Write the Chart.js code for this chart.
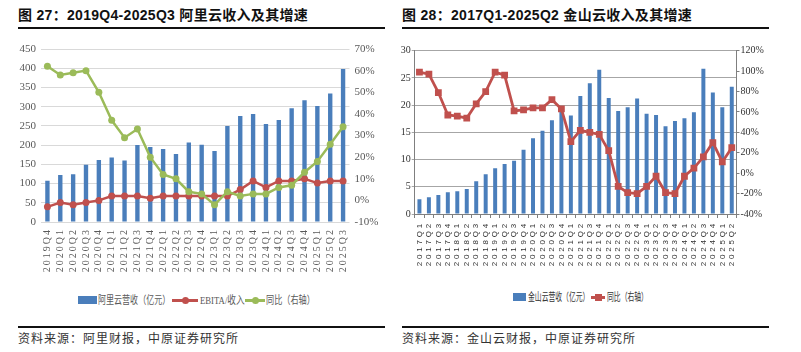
<!DOCTYPE html>
<html>
<head>
<meta charset="utf-8">
<title>阿里云与金山云收入及增速</title>
<script src="https://cdn.jsdelivr.net/npm/chart.js"></script>
<style>
    body {
        margin: 0;
        width: 801px;
        height: 352px;
        background: #fff;
        position: relative;
        overflow: hidden;
        font-family: 'Liberation Serif', 'Noto Sans CJK SC', serif;
    }
    .title {
        position: absolute;
        top: 5px;
        font: bold 14px 'Liberation Sans', 'Noto Sans CJK SC', sans-serif;
        letter-spacing: 0.3px;
        color: #111;
        white-space: nowrap;
        line-height: 20px;
    }
    .rule {
        position: absolute;
        height: 2px;
        background: #111;
    }
    .source {
        position: absolute;
        top: 330px;
        font: 12px 'Noto Sans CJK SC', sans-serif;
        letter-spacing: 1px;
        color: #333;
        white-space: nowrap;
        line-height: 16px;
    }
    .box {
        position: absolute;
        top: 36px;
        height: 244px;
    }
    .lg {
        position: absolute;
        white-space: nowrap;
        font-size: 11px;
        line-height: 14px;
        transform-origin: left center;
    }
    .sw { position: absolute; }
</style>
</head>
<body>
    <div class="title" style="left:18px">图 27：2019Q4-2025Q3 阿里云收入及其增速</div>
    <div class="rule" style="left:18px; top:27px; width:367px"></div>
    <div class="title" style="left:402px">图 28：2017Q1-2025Q2 金山云收入及其增速</div>
    <div class="rule" style="left:402px; top:27px; width:367px"></div>

    <div class="box" style="left:0; width:400px"><canvas id="aliChart"></canvas></div>
    <div class="box" style="left:400px; width:401px"><canvas id="ksChart"></canvas></div>

    <!-- legend, chart 27 -->
    <div class="sw" style="left:78px; top:296px; width:19px; height:8px; background:#4A7EBB"></div>
    <div class="lg" style="left:98px; top:293px; color:#595959; transform:scaleX(0.73)">阿里云营收（亿元）</div>
    <div class="sw" style="left:172px; top:299px; width:26px; height:2.5px; background:#C0504D"></div>
    <div class="sw" style="left:181.5px; top:296.5px; width:7px; height:7px; border-radius:50%; background:#C0504D"></div>
    <div class="lg" style="left:200px; top:293px; color:#595959; transform:scaleX(0.79)">EBITA/收入</div>
    <div class="sw" style="left:245px; top:299px; width:20px; height:2.5px; background:#9BBB59"></div>
    <div class="sw" style="left:251.5px; top:296.5px; width:7px; height:7px; border-radius:50%; background:#9BBB59"></div>
    <div class="lg" style="left:266px; top:293px; color:#595959; transform:scaleX(0.74)">同比（右轴）</div>

    <!-- legend, chart 28 -->
    <div class="sw" style="left:513px; top:293px; width:13px; height:8px; background:#4A7EBB"></div>
    <div class="lg" style="left:528px; top:290px; color:#333; transform:scaleX(0.62)">金山云营收（亿元）</div>
    <div class="sw" style="left:591px; top:296px; width:14px; height:2.5px; background:#C0504D"></div>
    <div class="sw" style="left:594.5px; top:293.5px; width:7px; height:7px; background:#C0504D"></div>
    <div class="lg" style="left:607px; top:290px; color:#333; transform:scaleX(0.62)">同比（右轴）</div>

    <div class="rule" style="left:18px; top:326px; width:367px"></div>
    <div class="source" style="left:18px">资料来源：阿里财报，中原证券研究所</div>
    <div class="rule" style="left:402px; top:326px; width:367px"></div>
    <div class="source" style="left:402px">资料来源：金山云财报，中原证券研究所</div>

    <script>
        // 图27 阿里云
        const aliQuarters = ['2019Q4', '2020Q1', '2020Q2', '2020Q3', '2020Q4', '2021Q1', '2021Q2', '2021Q3',
            '2021Q4', '2022Q1', '2022Q2', '2022Q3', '2022Q4', '2023Q1', '2023Q2', '2023Q3',
            '2023Q4', '2024Q1', '2024Q2', '2024Q3', '2024Q4', '2025Q1', '2025Q2', '2025Q3'];
        const aliRevenue = [107, 122, 124, 149, 161, 168, 160, 200, 195, 190, 177, 207,
            201, 185, 250, 276, 281, 255, 265, 296, 317, 302, 334, 398];
        const aliEbitaMargin = [-3, -1, -2, -1, 0, 2, 2, 2, 1, 2, 2, 2,
            2, 2, 2, 5, 9, 6, 9, 9, 10, 8, 9, 9];
        const aliYoY = [62, 58, 59, 60, 50, 37, 29, 33, 20, 12, 10, 4,
            3, -2, 4, 2, 3, 3, 6, 7, 13, 18, 26, 34];

        // 图28 金山云
        const ksQuarters = ['2017Q1', '2017Q2', '2017Q3', '2017Q4', '2018Q1', '2018Q2', '2018Q3', '2018Q4',
            '2019Q1', '2019Q2', '2019Q3', '2019Q4', '2020Q1', '2020Q2', '2020Q3', '2020Q4',
            '2021Q1', '2021Q2', '2021Q3', '2021Q4', '2022Q1', '2022Q2', '2022Q3', '2022Q4',
            '2023Q1', '2023Q2', '2023Q3', '2023Q4', '2024Q1', '2024Q2', '2024Q3', '2024Q4',
            '2025Q1', '2025Q2'];
        const ksRevenue = [2.7, 3.1, 3.5, 4.0, 4.2, 4.6, 6.0, 7.3, 8.4, 9.2, 9.8, 11.8,
            13.9, 15.3, 17.2, 19.1, 18.1, 21.7, 24.0, 26.5, 21.3, 18.9, 19.6, 21.2,
            18.4, 18.2, 16.1, 17.1, 17.6, 18.7, 26.7, 22.3, 19.6, 23.4];
        const ksYoY = [99, 97, 79, 57, 56, 54, 68, 80, 99, 96, 61, 62,
            64, 64, 72, 63, 31, 42, 40, 38, 22, -13, -19, -20,
            -13, -3, -19, -20, -3, 5, 16, 30, 11, 25];

        const BLUE = '#4A7EBB';
        const RED = '#C0504D';
        const GREEN = '#9BBB59';

        // letter spacing for the rotated category labels
        const spacedTicks = {
            id: 'spacedTicks',
            beforeDraw(chart, args, opts) {
                const sx = chart.scales.x;
                if (sx && !sx._spaced) {
                    const orig = sx.drawLabels;
                    sx.drawLabels = function (area) {
                        const c = this.ctx;
                        c.save();
                        c.letterSpacing = opts.spacing;
                        orig.call(this, area);
                        c.restore();
                    };
                    sx._spaced = true;
                }
            }
        };

        Chart.defaults.animation = false;
        Chart.defaults.plugins.legend.display = false;
        Chart.defaults.plugins.tooltip.enabled = false;

        new Chart(document.getElementById('aliChart'), {
            type: 'bar',
            plugins: [spacedTicks],
            data: {
                labels: aliQuarters,
                datasets: [
                    {
                        type: 'line', label: '同比（右轴）', data: aliYoY, yAxisID: 'y1', order: 1,
                        borderColor: GREEN, backgroundColor: GREEN, borderWidth: 2.5,
                        pointRadius: 3.5, pointBorderWidth: 0, pointBackgroundColor: GREEN, tension: 0
                    },
                    {
                        type: 'line', label: 'EBITA/收入', data: aliEbitaMargin, yAxisID: 'y1', order: 2,
                        borderColor: RED, backgroundColor: RED, borderWidth: 2.5,
                        pointRadius: 3.5, pointBorderWidth: 0, pointBackgroundColor: RED, tension: 0
                    },
                    {
                        label: '阿里云营收（亿元）', data: aliRevenue, yAxisID: 'y', order: 3,
                        backgroundColor: BLUE, barPercentage: 0.34, categoryPercentage: 1
                    }
                ]
            },
            options: {
                responsive: true,
                maintainAspectRatio: false,
                layout: { padding: { top: 13, left: 0, right: 0, bottom: 0 } },
                plugins: { spacedTicks: { spacing: '2px' } },
                scales: {
                    x: {
                        grid: { display: false, drawTicks: false },
                        border: { display: false },
                        ticks: {
                            autoSkip: false, maxRotation: 90, minRotation: 90, padding: 6,
                            color: '#595959', font: { family: 'Liberation Serif', size: 10 }
                        },
                        afterFit: s => { s.height = 58; }
                    },
                    y: {
                        position: 'left', min: 0, max: 450,
                        grid: { color: '#d9d9d9', drawTicks: false },
                        border: { display: false },
                        ticks: {
                            stepSize: 50, padding: 5,
                            color: '#595959', font: { family: 'Liberation Serif', size: 11 }
                        },
                        afterFit: s => { s.width = 41; }
                    },
                    y1: {
                        position: 'right', min: -10, max: 70,
                        grid: { display: false, drawTicks: false },
                        border: { display: false },
                        ticks: {
                            stepSize: 10, padding: 5, callback: v => v + '%',
                            color: '#595959', font: { family: 'Liberation Serif', size: 11 }
                        },
                        afterFit: s => { s.width = 50.5; }
                    }
                }
            }
        });

        new Chart(document.getElementById('ksChart'), {
            type: 'bar',
            plugins: [spacedTicks],
            data: {
                labels: ksQuarters,
                datasets: [
                    {
                        type: 'line', label: '同比（右轴）', data: ksYoY, yAxisID: 'y1', order: 1,
                        borderColor: RED, backgroundColor: RED, borderWidth: 2.8,
                        pointStyle: 'rect', pointRadius: 4.8, pointBorderWidth: 0,
                        pointBackgroundColor: RED, tension: 0
                    },
                    {
                        label: '金山云营收（亿元）', data: ksRevenue, yAxisID: 'y', order: 2,
                        backgroundColor: BLUE, barPercentage: 0.42, categoryPercentage: 1
                    }
                ]
            },
            options: {
                responsive: true,
                maintainAspectRatio: false,
                layout: { padding: { top: 14.7, left: 0, right: 0, bottom: 0 } },
                plugins: { spacedTicks: { spacing: '2.8px' } },
                scales: {
                    x: {
                        grid: { display: true, drawOnChartArea: false, tickLength: 4, color: '#7f7f7f' },
                        border: { display: true, color: '#7f7f7f' },
                        ticks: {
                            autoSkip: false, maxRotation: 90, minRotation: 90, padding: 3,
                            color: '#333', font: { family: 'Liberation Sans', size: 8 }
                        },
                        afterFit: s => { s.height = 66; }
                    },
                    y: {
                        position: 'left', min: 0, max: 30,
                        grid: { color: '#a6a6a6', tickLength: 3 },
                        border: { display: true, color: '#7f7f7f' },
                        ticks: {
                            stepSize: 5, padding: 1,
                            color: '#333', font: { family: 'Liberation Serif', size: 10 }
                        },
                        afterFit: s => { s.width = 14.7; }
                    },
                    y1: {
                        position: 'right', min: -40, max: 120,
                        grid: { drawOnChartArea: false, tickLength: 3, color: '#7f7f7f' },
                        border: { display: true, color: '#7f7f7f' },
                        ticks: {
                            stepSize: 20, padding: 1, callback: v => v + '%',
                            color: '#333', font: { family: 'Liberation Serif', size: 10 }
                        },
                        afterFit: s => { s.width = 64.5; }
                    }
                }
            }
        });
    </script>
</body>
</html>
